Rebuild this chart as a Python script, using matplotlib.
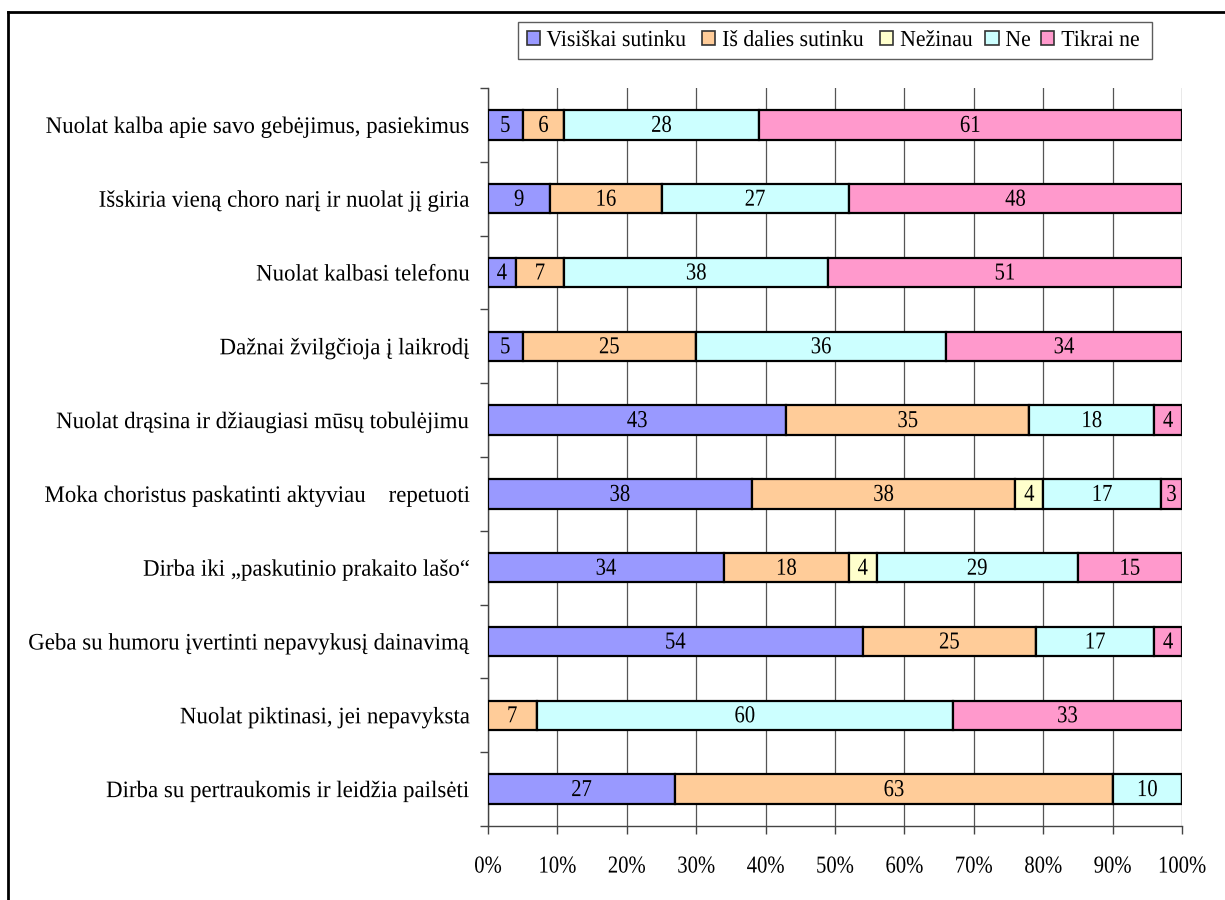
import matplotlib
matplotlib.use("Agg")
import matplotlib.pyplot as plt
from matplotlib.lines import Line2D
from matplotlib.patches import Patch
from matplotlib.patheffects import AbstractPathEffect
from matplotlib.transforms import Affine2D

plt.rcParams['font.family'] = ['Liberation Serif', 'DejaVu Serif']

categories = [
    "Nuolat kalba apie savo gebėjimus, pasiekimus",
    "Išskiria vieną choro narį ir nuolat jį giria",
    "Nuolat kalbasi telefonu",
    "Dažnai žvilgčioja į laikrodį",
    "Nuolat drąsina ir džiaugiasi mūsų tobulėjimu",
    "Moka choristus paskatinti aktyviau    repetuoti",
    "Dirba iki „paskutinio prakaito lašo“",
    "Geba su humoru įvertinti nepavykusį dainavimą",
    "Nuolat piktinasi, jei nepavyksta",
    "Dirba su pertraukomis ir leidžia pailsėti",
]
series_names = ["Visiškai sutinku", "Iš dalies sutinku", "Nežinau", "Ne", "Tikrai ne"]
visiskai = [5, 9, 4, 5, 43, 38, 34, 54, 0, 27]
is_dalies = [6, 16, 7, 25, 35, 38, 18, 25, 7, 63]
nezinau = [0, 0, 0, 0, 0, 4, 4, 0, 0, 0]
ne = [28, 27, 38, 36, 18, 17, 29, 17, 60, 10]
tikrai_ne = [61, 48, 51, 34, 4, 3, 15, 4, 33, 0]
x_ticks = [0, 10, 20, 30, 40, 50, 60, 70, 80, 90, 100]
x_tick_labels = [f"{v}%" for v in x_ticks]

colors = ["#9999FF", "#FFCC99", "#FFFFCC", "#CCFFFF", "#FF99CC"]
series = [visiskai, is_dalies, nezinau, ne, tikrai_ne]


class Narrow(AbstractPathEffect):
    """Compress text horizontally around a chosen anchor."""

    def __init__(self, sx=0.88, anchor='center'):
        super().__init__()
        self.sx = sx
        self.anchor = anchor

    def draw_path(self, renderer, gc, tpath, affine, rgbFace=None):
        verts = affine.transform(tpath.vertices)
        if len(verts) == 0:
            return
        xmin, xmax = verts[:, 0].min(), verts[:, 0].max()
        x0 = {'left': xmin, 'right': xmax, 'center': 0.5 * (xmin + xmax)}[self.anchor]
        extra = Affine2D().translate(-x0, 0).scale(self.sx, 1).translate(x0, 0)
        renderer.draw_path(gc, tpath, affine + extra, rgbFace)


FS_LABEL = 17
FS_NUM = 17.5
FS_LEG = 16.5

fig = plt.figure(figsize=(12.25, 9), dpi=100)
ax = fig.add_axes([488/1225, 1-826/900, (1182-488)/1225, (826-88)/900])

ypos = list(range(len(categories)))
left = [0]*len(categories)
for name, vals, col in zip(series_names, series, colors):
    bars = ax.barh(ypos, vals, left=left, height=0.4, color=col,
                   edgecolor='black', linewidth=1.6, label=name, zorder=3)
    for b, v, l in zip(bars, vals, left):
        if v > 0:
            ax.text(l + v/2, b.get_y() + b.get_height()/2 + 0.02, str(v),
                    ha='center', va='center', fontsize=FS_NUM, zorder=4,
                    path_effects=[Narrow(0.85, 'center')])
    left = [a + b for a, b in zip(left, vals)]

ax.set_xlim(0, 100)
ax.set_ylim(len(categories) - 0.5, -0.5)
ax.set_xticks(x_ticks)
ax.set_xticklabels(x_tick_labels, fontsize=FS_NUM)
ax.set_yticks(ypos)
ax.set_yticklabels(categories, fontsize=FS_LABEL)
for t in ax.get_xticklabels():
    t.set_path_effects([Narrow(0.85, 'center')])
for t in ax.get_yticklabels():
    t.set_path_effects([Narrow(0.97, 'right')])
ax.tick_params(axis='y', length=0, pad=13)
ax.tick_params(axis='x', length=6, width=1, color='#444444', pad=16)
# category boundary ticks on the left axis
ax.set_yticks([i - 0.5 for i in range(len(categories) + 1)], minor=True)
ax.tick_params(axis='y', which='minor', length=6, width=1, color='#444444')
ax.xaxis.grid(True, color='#555555', linewidth=0.9, zorder=0)
ax.set_axisbelow(True)
for s in ['top', 'right']:
    ax.spines[s].set_visible(False)
for s in ['left', 'bottom']:
    ax.spines[s].set_color('#444444')
    ax.spines[s].set_linewidth(1.0)

handles = [Patch(facecolor=c, edgecolor='#333333', linewidth=1.2) for c in colors]
leg = fig.legend(handles, series_names, loc='center',
                 bbox_to_anchor=((517+1153)/2/1225, 1-40.5/900), ncol=5,
                 fontsize=FS_LEG, frameon=True, fancybox=False, edgecolor='#333333',
                 handlelength=0.57, handleheight=0.57, handletextpad=0.3,
                 columnspacing=0.4, borderpad=0.35, borderaxespad=0)
leg.get_frame().set_linewidth(1.0)
for t in leg.get_texts():
    t.set_path_effects([Narrow(0.95, 'left')])

# outer chart border
fig.add_artist(Line2D([8/1225, 1.0], [1-12/900, 1-12/900], transform=fig.transFigure,
                      color='black', linewidth=2.0))
fig.add_artist(Line2D([8/1225, 8/1225], [0.0, 1-12/900], transform=fig.transFigure,
                      color='black', linewidth=2.0))

fig.savefig("out.png", dpi=100)
